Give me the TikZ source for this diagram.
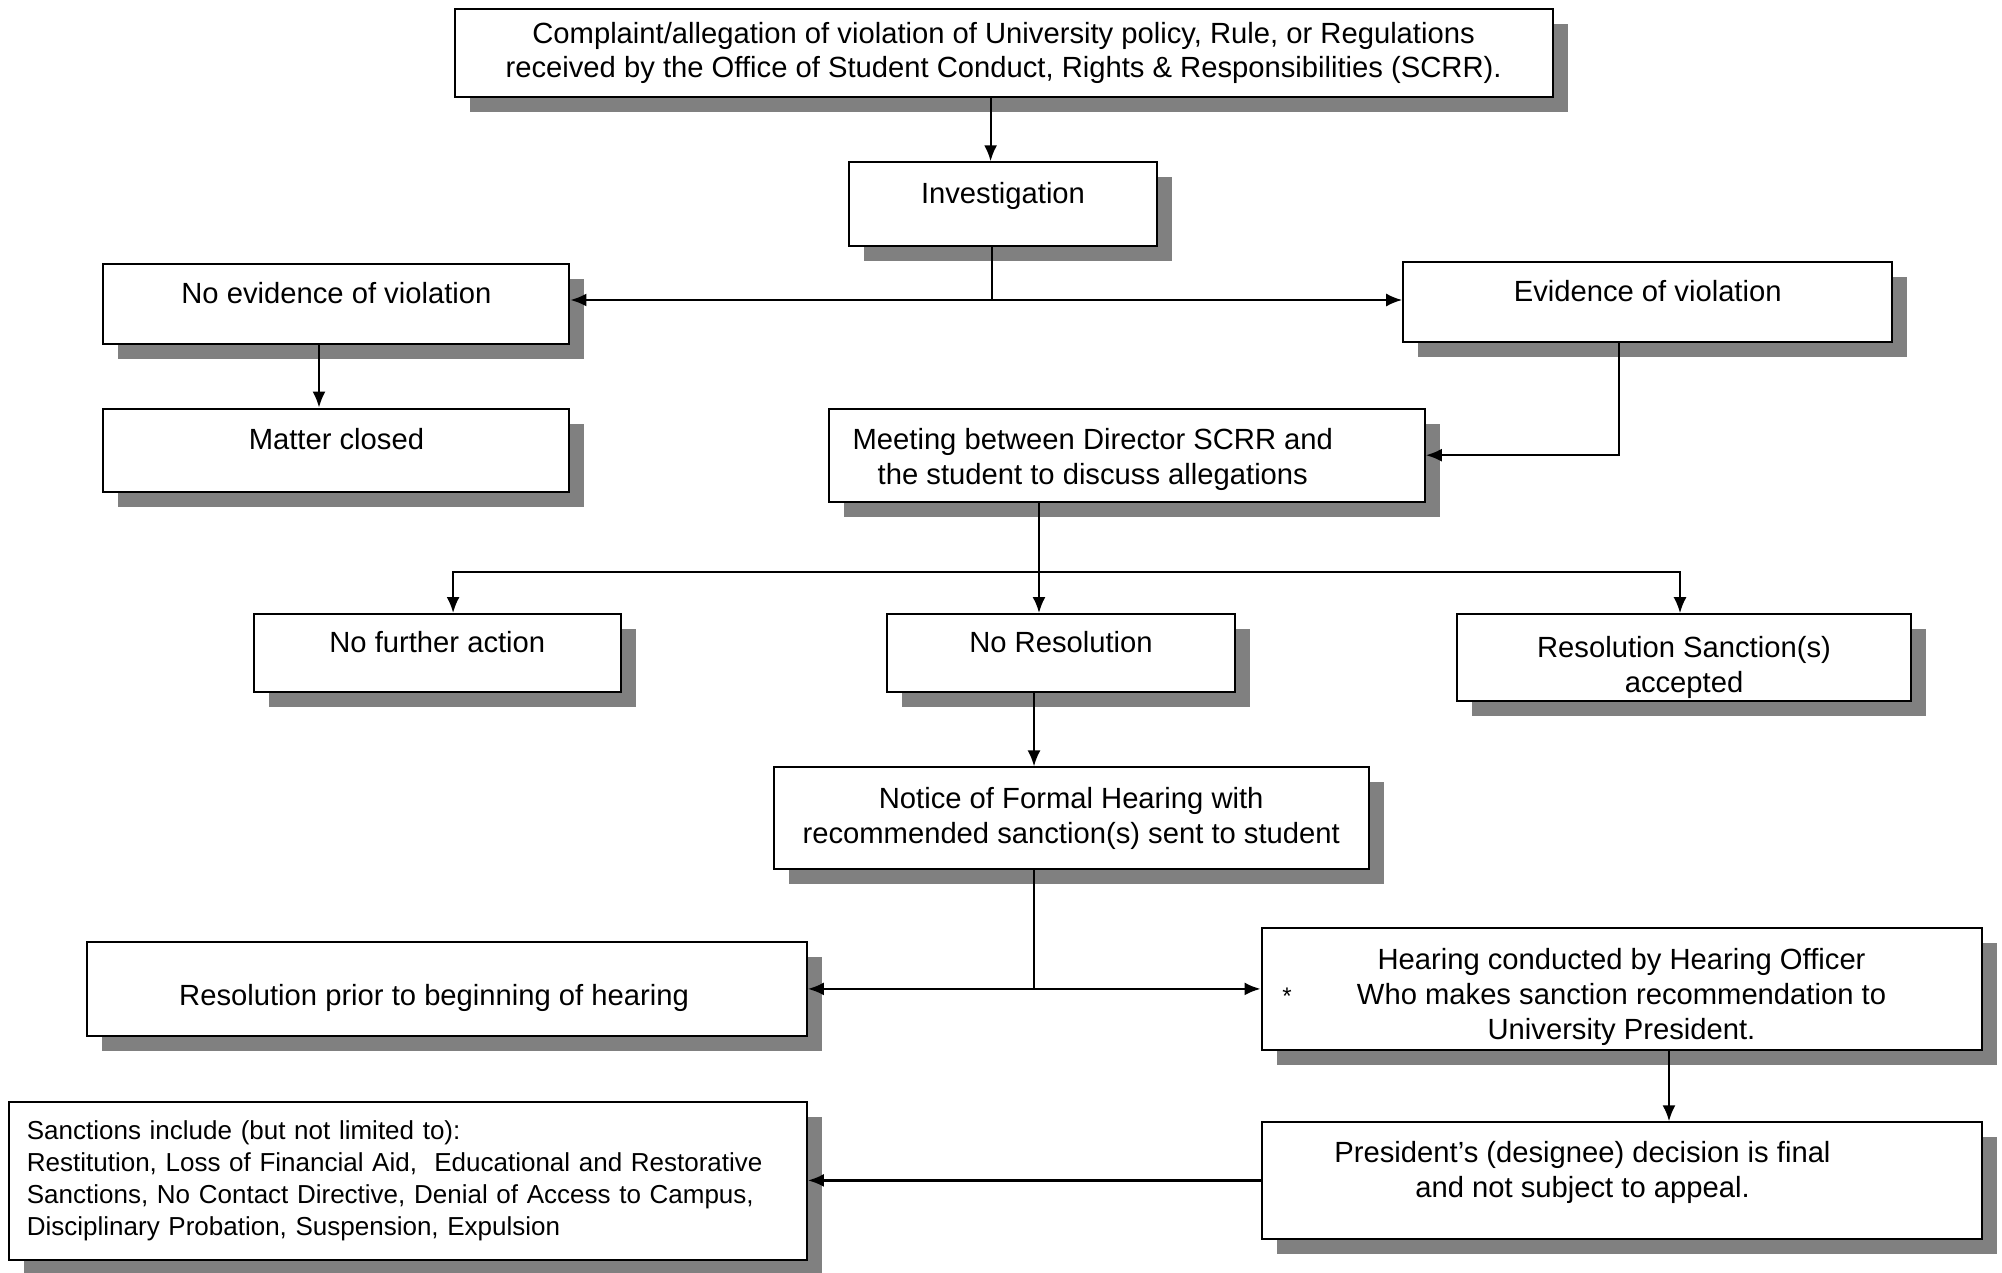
\documentclass[tikz,border=0pt]{standalone}
\usepackage{fontspec}
\setmainfont{Liberation Sans}
\usetikzlibrary{arrows.meta, positioning, shadows, calc}
\definecolor{shadowgray}{RGB}{128,128,128}

\begin{document}
\begin{tikzpicture}[
    x=0.5pt, y=-0.5pt,
    box/.style={draw, line width=1pt, fill=white, align=center, inner sep=0pt, font=\fontsize{14.6}{17.3}\selectfont,
        drop shadow={shadow xshift=7.5pt, shadow yshift=-7.5pt, fill=shadowgray, opacity=1}},
    upper/.style={text depth=11pt},
    txt/.style={align=center, inner sep=0pt, font=\fontsize{14.6}{17.3}\selectfont},
    arrow/.style={-{Latex[length=8pt, width=6.5pt]}, line width=1.1pt},
    line/.style={line width=1.1pt}
]
    \useasboundingbox (0,0) rectangle (2002,1273);

    % Boxes
    \node[box, minimum width=549pt, minimum height=44pt] (complaint) at (1003.6,53) {Complaint/allegation of violation of University policy, Rule, or Regulations\\received by the Office of Student Conduct, Rights \& Responsibilities (SCRR).};
    \node[box, upper, minimum width=154pt, minimum height=42pt] (invest) at (1003,204.3) {Investigation};
    \node[box, upper, minimum width=233pt, minimum height=39.6pt] (noevid) at (336.4,303.9) {No evidence of violation};
    \node[box, upper, minimum width=244.5pt, minimum height=40.2pt] (evid) at (1647.7,302) {Evidence of violation};
    \node[box, upper, minimum width=233pt, minimum height=41.5pt] (closed) at (336.4,450.1) {Matter closed};
    \node[box, minimum width=298pt, minimum height=46.6pt,
        label={[txt, xshift=-17pt, yshift=-2pt, name=meettext]center:{Meeting between Director SCRR and\\the student to discuss allegations}}] (meeting) at (1126.8,455.2) {};
    \node[box, upper, minimum width=183.2pt, minimum height=39pt] (nofurther) at (437.3,653) {No further action};
    \node[box, upper, minimum width=173.6pt, minimum height=39pt] (nores) at (1061,653) {No Resolution};
    \node[box, minimum width=227.3pt, minimum height=43.4pt,
        label={[txt, yshift=-5pt, name=acctext]center:{Resolution Sanction(s)\\accepted}}] (accepted) at (1684,657.6) {};
    \node[box, minimum width=297.5pt, minimum height=51pt] (notice) at (1071.2,818.4) {Notice of Formal Hearing with\\recommended sanction(s) sent to student};
    \node[box, minimum width=360pt, minimum height=46.6pt,
        label={[txt, xshift=-6.4pt, yshift=-4.5pt, name=priortext]center:{Resolution prior to beginning of hearing}}] (prior) at (446.9,988.9) {};
    \node[box, minimum width=360pt, minimum height=60.7pt,
        label={[txt, yshift=-4pt, name=heartext]center:{Hearing conducted by Hearing Officer\\Who makes sanction recommendation to\\University President.}}] (hearing) at (1621.5,988.9) {};
    \node[font=\fontsize{12}{14}\selectfont, inner sep=0pt] (star) at (1287,996) {*};
    \node[box, minimum width=360pt, minimum height=58.1pt,
        label={[txt, xshift=-19.5pt, yshift=4pt, name=prestext]center:{President’s (designee) decision is final\\and not subject to appeal.}}] (president) at (1621.5,1180.4) {};
    \node[box, align=left, text width=381pt, minimum width=399pt, minimum height=79.2pt, font=\fontsize{13}{16}\selectfont] (sanctions) at (407.9,1181) {Sanctions include (but not limited to):\\Restitution, Loss of Financial Aid, \ Educational and Restorative\\Sanctions, No Contact Directive, Denial of Access to Campus,\\Disciplinary Probation, Suspension, Expulsion};

    % Connectors
    \draw[arrow] ([xshift=-6.5pt]complaint.south) -- ([xshift=-6.5pt]complaint.south |- invest.north);
    \coordinate (fork1) at ([xshift=-5.5pt]invest.south |- 0,300);
    \draw[line] ([xshift=-5.5pt]invest.south) -- (fork1);
    \draw[arrow] (fork1) -- (fork1 -| noevid.east);
    \draw[arrow] (fork1) -- (fork1 -| evid.west);
    \draw[arrow] ([xshift=-8.7pt]noevid.south) -- ([xshift=-8.7pt]noevid.south |- closed.north);
    \draw[arrow] ([xshift=-14.3pt]evid.south) |- (meeting.east);

    \coordinate (fork2) at ([xshift=-43.9pt]meeting.south |- 0,572);
    \draw[line] ([xshift=-43.9pt]meeting.south) -- (fork2);
    \draw[arrow] (fork2) -| ([xshift=7.9pt]nofurther.north);
    \draw[arrow] (fork2) -- (fork2 |- nores.north);
    \draw[arrow] (fork2) -| ([xshift=-2pt]accepted.north);

    \draw[arrow] ([xshift=-13.5pt]nores.south) -- ([xshift=-13.5pt]nores.south |- notice.north);
    \coordinate (fork3) at ([xshift=-18.6pt]notice.south |- prior.east);
    \draw[line] ([xshift=-18.6pt]notice.south) -- (fork3);
    \draw[arrow] (fork3) -- (prior.east);
    \draw[arrow] (fork3) -- (hearing.west);

    \draw[arrow] ([xshift=23.75pt]hearing.south) -- ([xshift=23.75pt]hearing.south |- president.north);
    \draw[arrow] (president.west) -- (president.west -| sanctions.east);
\end{tikzpicture}
\end{document}
